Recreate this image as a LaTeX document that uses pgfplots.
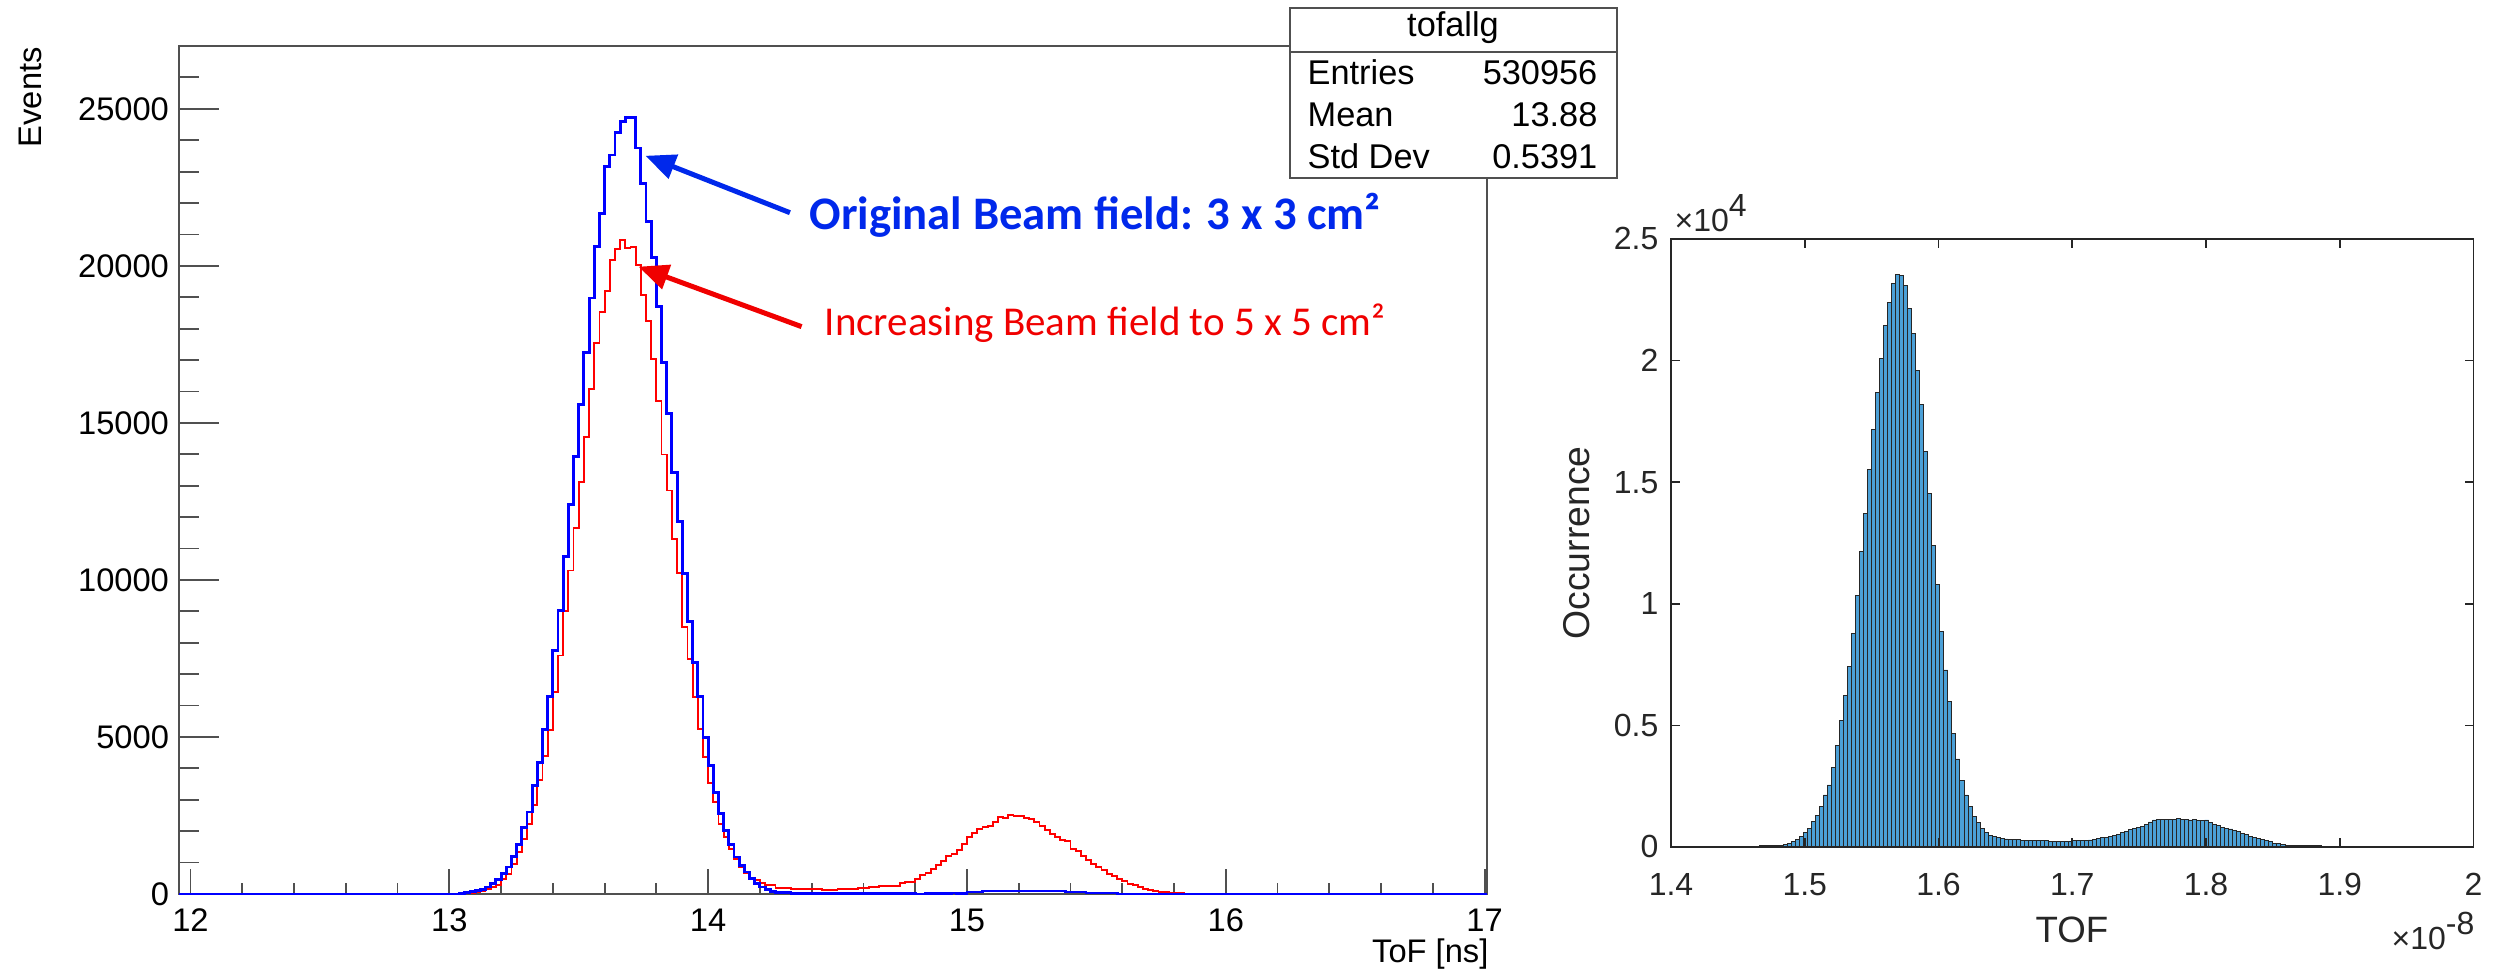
\documentclass[border=0pt]{standalone}
\usepackage{pgfplots}
\pgfplotsset{compat=1.18}
\usepackage{fontspec}
\setmainfont{Liberation Sans}
\newfontfamily\calibri{Carlito}
\usetikzlibrary{arrows.meta}

\definecolor{rootblue}{RGB}{0,0,255}
\definecolor{rootred}{RGB}{255,0,0}
\definecolor{noteblue}{RGB}{0,40,235}
\definecolor{notered}{RGB}{240,0,0}
\definecolor{framegray}{RGB}{80,80,80}
\definecolor{mlgray}{RGB}{38,38,38}
\definecolor{mlbar}{RGB}{75,160,215}

\begin{document}
\begin{tikzpicture}
\path[use as bounding box] (0pt,0pt) rectangle (750.6pt,291pt);

% ---------------- ROOT-style ToF histogram ----------------
\begin{axis}[
  at={(53.58pt,22.8pt)}, anchor=south west,
  width=392.5pt, height=254.4pt, scale only axis,
  xmin=11.954, xmax=17.009, ymin=0, ymax=27000,
  axis line style={framegray, line width=0.55pt},
  tick align=inside, tick pos=left,
  xtick={12,13,14,15,16,17}, xticklabels={12,13,14,15,16,17},
  minor xtick={12.2,12.4,12.6,12.8,13.2,13.4,13.6,13.8,14.2,14.4,14.6,14.8,15.2,15.4,15.6,15.8,16.2,16.4,16.6,16.8},
  ytick={0,5000,10000,15000,20000,25000},
  yticklabels={0,5000,10000,15000,20000,25000},
  minor ytick={1000,2000,3000,4000,6000,7000,8000,9000,11000,12000,13000,14000,16000,17000,18000,19000,21000,22000,23000,24000,26000},
  xtick style={framegray, line width=0.55pt, /pgfplots/major tick length=7.5pt, /pgfplots/minor tick length=3.3pt},
  ytick style={framegray, line width=0.55pt, /pgfplots/major tick length=12pt, /pgfplots/minor tick length=6pt},
  ticklabel style={font=\fontsize{9.8}{11}\selectfont},
  xticklabel style={inner sep=0pt, yshift=-4.2pt},
  yticklabel style={inner sep=0pt, xshift=-2.7pt},
  scaled ticks=false,
  clip=false,
]
% 5 x 5 cm^2 field
\addplot[const plot, color=rootred, line width=0.55pt] coordinates {
(11.954,0) (13.06,21) (13.08,42) (13.10,64) (13.12,95) (13.14,148) (13.16,223) (13.18,297)
(13.20,488) (13.22,647) (13.24,944) (13.26,1336) (13.28,1740) (13.30,2238) (13.32,2821)
(13.34,3638) (13.36,4391) (13.38,5229) (13.40,6428) (13.42,7595) (13.44,9005) (13.46,10299)
(13.48,11657) (13.50,13110) (13.52,14542) (13.54,16082) (13.56,17545) (13.58,18541)
(13.60,19210) (13.62,20186) (13.64,20537) (13.66,20833) (13.68,20568) (13.70,20588)
(13.72,20026) (13.74,19073) (13.76,18245) (13.78,17036) (13.80,15709) (13.82,13991)
(13.84,12846) (13.86,11309) (13.88,10214) (13.90,8496) (13.92,7488) (13.94,6269)
(13.96,5240) (13.98,4359) (14.00,3543) (14.02,2928) (14.04,2238) (14.06,1814) (14.08,1443)
(14.10,1124) (14.12,859) (14.14,668) (14.16,488) (14.18,435) (14.20,350) (14.22,276)
(14.24,276) (14.26,202) (14.28,202) (14.30,202) (14.32,170) (14.34,170) (14.36,170)
(14.38,170) (14.40,148) (14.42,148) (14.44,138) (14.46,138) (14.48,138) (14.50,148)
(14.52,148) (14.54,170) (14.56,170) (14.58,190) (14.60,190) (14.62,223) (14.64,223)
(14.66,255) (14.68,255) (14.70,255) (14.72,255) (14.74,350) (14.76,382) (14.78,382)
(14.80,488) (14.82,594) (14.84,668) (14.86,806) (14.88,912) (14.90,1039) (14.92,1198)
(14.94,1262) (14.96,1410) (14.98,1601) (15.00,1813) (15.02,1940) (15.04,2078) (15.06,2131)
(15.08,2153) (15.10,2291) (15.12,2450) (15.14,2429) (15.16,2503) (15.18,2471) (15.20,2482)
(15.22,2429) (15.24,2376) (15.26,2291) (15.28,2153) (15.30,2026) (15.32,1920) (15.34,1813)
(15.36,1707) (15.38,1675) (15.40,1442) (15.42,1368) (15.44,1198) (15.46,1071) (15.48,965)
(15.50,859) (15.52,753) (15.54,647) (15.56,562) (15.58,488) (15.60,414) (15.62,329)
(15.64,276) (15.66,223) (15.68,170) (15.70,138) (15.72,95) (15.74,64) (15.78,32)
(15.84,0) (17.009,0)
};
% 3 x 3 cm^2 field
\addplot[const plot, color=rootblue, line width=0.85pt] coordinates {
(11.954,0) (13.04,21) (13.06,42) (13.08,85) (13.10,117) (13.12,148) (13.14,223) (13.16,329)
(13.18,456) (13.20,647) (13.22,859) (13.24,1199) (13.26,1570) (13.28,2111) (13.30,2609)
(13.32,3447) (13.34,4179) (13.36,5229) (13.38,6300) (13.40,7754) (13.42,9027) (13.44,10745)
(13.46,12389) (13.48,13928) (13.50,15573) (13.52,17246) (13.54,18977) (13.56,20610)
(13.58,21670) (13.60,23155) (13.62,23527) (13.64,24247) (13.66,24588) (13.68,24724)
(13.70,24724) (13.72,23750) (13.74,22624) (13.76,21405) (13.78,20269) (13.80,18710)
(13.82,16928) (13.84,15286) (13.86,13428) (13.88,11869) (13.90,10214) (13.92,8677)
(13.94,7382) (13.96,6300) (13.98,4975) (14.00,4094) (14.02,3225) (14.04,2556) (14.06,2026)
(14.08,1570) (14.10,1177) (14.12,912) (14.14,700) (14.16,488) (14.18,329) (14.20,223)
(14.22,138) (14.24,85) (14.26,42) (14.28,42) (14.30,42) (14.32,12) (14.40,5) (14.44,12)
(14.50,5) (14.56,10) (14.80,0) (14.84,10) (14.94,32) (14.96,10) (15.00,64) (15.06,95)
(15.38,64) (15.46,32) (15.58,0) (17.009,0)
};
\draw[noteblue, line width=1.5pt, -{Triangle[length=9pt,width=7.5pt]}]
  (axis cs:14.316,21692) -- (axis cs:13.758,23505);
\draw[notered, line width=1.5pt, -{Triangle[length=9pt,width=7.5pt]}]
  (axis cs:14.361,18064) -- (axis cs:13.731,19973);
\end{axis}

% ---------------- MATLAB-style TOF histogram ----------------
\begin{axis}[
  at={(501.3pt,36.9pt)}, anchor=south west,
  width=240.75pt, height=182.4pt, scale only axis,
  xmin=1.4, xmax=2, ymin=0, ymax=2.5,
  axis on top,
  axis line style={mlgray, line width=0.5pt},
  tick align=inside, tick pos=both,
  major tick length=2.7pt,
  tick style={mlgray, line width=0.5pt},
  xtick={1.4,1.5,1.6,1.7,1.8,1.9,2}, xticklabels={1.4,1.5,1.6,1.7,1.8,1.9,2},
  ytick={0,0.5,1,1.5,2,2.5}, yticklabels={0,0.5,1,1.5,2,2.5},
  ticklabel style={font=\fontsize{9.6}{11}\selectfont, text=mlgray},
  xticklabel style={inner sep=0pt, yshift=-7.8pt},
  yticklabel style={inner sep=0pt, xshift=-3.6pt},
  scaled ticks=false,
]
\addplot[ybar interval, fill=mlbar, draw=black!85, line width=0.25pt] coordinates {
(1.400,0.003) (1.403,0.003) (1.406,0.003) (1.409,0.003) (1.412,0.003) (1.415,0.003)
(1.418,0.003) (1.421,0.003) (1.424,0.003) (1.427,0.003) (1.430,0.003) (1.433,0.003)
(1.436,0.004) (1.439,0.004) (1.442,0.004) (1.445,0.004) (1.448,0.004) (1.451,0.004)
(1.454,0.004) (1.457,0.004) (1.460,0.004) (1.463,0.004) (1.466,0.0055) (1.469,0.0055)
(1.472,0.0055) (1.475,0.0055) (1.478,0.0055) (1.481,0.008) (1.484,0.011) (1.487,0.015)
(1.490,0.022) (1.493,0.032) (1.496,0.042) (1.499,0.060) (1.502,0.077) (1.505,0.104)
(1.508,0.129) (1.511,0.166) (1.514,0.214) (1.517,0.255) (1.520,0.326) (1.523,0.417)
(1.526,0.519) (1.529,0.622) (1.532,0.742) (1.535,0.879) (1.538,1.036) (1.541,1.214)
(1.544,1.372) (1.547,1.553) (1.550,1.717) (1.553,1.868) (1.556,2.007) (1.559,2.146)
(1.562,2.240) (1.565,2.316) (1.568,2.355) (1.571,2.351) (1.574,2.308) (1.577,2.216)
(1.580,2.112) (1.583,1.961) (1.586,1.820) (1.589,1.625) (1.592,1.454) (1.595,1.239)
(1.598,1.081) (1.601,0.885) (1.604,0.728) (1.607,0.598) (1.610,0.465) (1.613,0.362)
(1.616,0.273) (1.619,0.214) (1.622,0.166) (1.625,0.127) (1.628,0.101) (1.631,0.077)
(1.634,0.060) (1.637,0.049) (1.640,0.042) (1.643,0.038) (1.646,0.036) (1.649,0.033)
(1.652,0.030) (1.655,0.030) (1.658,0.030) (1.661,0.026) (1.664,0.026) (1.667,0.026)
(1.670,0.026) (1.673,0.026) (1.676,0.026) (1.679,0.025) (1.682,0.023) (1.685,0.023)
(1.688,0.023) (1.691,0.023) (1.694,0.023) (1.697,0.024) (1.700,0.025) (1.703,0.025)
(1.706,0.025) (1.709,0.026) (1.712,0.029) (1.715,0.031) (1.718,0.036) (1.721,0.038)
(1.724,0.040) (1.727,0.045) (1.730,0.049) (1.733,0.053) (1.736,0.059) (1.739,0.064)
(1.742,0.073) (1.745,0.078) (1.748,0.082) (1.751,0.084) (1.754,0.092) (1.757,0.103)
(1.760,0.111) (1.763,0.112) (1.766,0.112) (1.769,0.114) (1.772,0.114) (1.775,0.115)
(1.778,0.119) (1.781,0.112) (1.784,0.115) (1.787,0.111) (1.790,0.114) (1.793,0.110)
(1.796,0.108) (1.799,0.111) (1.802,0.100) (1.805,0.093) (1.808,0.088) (1.811,0.082)
(1.814,0.078) (1.817,0.074) (1.820,0.069) (1.823,0.063) (1.826,0.056) (1.829,0.051)
(1.832,0.045) (1.835,0.040) (1.838,0.036) (1.841,0.032) (1.844,0.026) (1.847,0.021)
(1.850,0.016) (1.853,0.014) (1.856,0.011) (1.859,0.008) (1.862,0.008) (1.865,0.005)
(1.868,0.005) (1.871,0.005) (1.874,0.005) (1.877,0.005) (1.880,0.005) (1.883,0.005)
(1.886,0.003) (1.889,0.003) (1.892,0.003) (1.895,0.003) (1.898,0.003) (1.901,0.003)
(1.904,0.003) (1.907,0.003) (1.910,0.003) (1.913,0.003) (1.916,0.003) (1.919,0.003)
(1.922,0.003) (1.925,0.003) (1.928,0.002) (1.931,0.002) (1.934,0.002) (1.937,0.002)
(1.940,0.002) (1.943,0.002) (1.946,0.002) (1.949,0.002) (1.952,0.002) (1.955,0.002)
(1.958,0.002) (1.961,0.002) (1.964,0.002) (1.967,0.002) (1.970,0.002) (1.973,0.002)
(1.976,0.002) (1.979,0.002) (1.982,0.002) (1.985,0.002) (1.988,0.002) (1.991,0.002)
(1.994,0.002) (1.997,0.002) (2.000,0)
};
\end{axis}

% texts and boxes, positioned on a 0.3pt grid
\begin{scope}[x=0.3pt,y=0.3pt]
\node[rotate=90, anchor=east, inner sep=0pt, font=\fontsize{9.8}{11}\selectfont] at (30,923.3) {Events};
\node[anchor=base east, inner sep=0pt, font=\fontsize{9.8}{11}\selectfont] at (1489,7) {ToF [ns]};

% statistics box
\draw[framegray, line width=0.55pt, fill=white] (1290,792) rectangle (1617,962);
\draw[framegray, line width=0.55pt] (1290,918.3) -- (1617,918.3);
\begin{scope}[every node/.style={inner sep=0pt, font=\fontsize{10.3}{12}\selectfont}]
\node[anchor=base] at (1453,933.3) {tofallg};
\node[anchor=base west] at (1307,885.7) {Entries};
\node[anchor=base east] at (1598,885.7) {530956};
\node[anchor=base west] at (1307,843.3) {Mean};
\node[anchor=base east] at (1598,843.3) {13.88};
\node[anchor=base west] at (1307,801.7) {Std Dev};
\node[anchor=base east] at (1598,801.7) {0.5391};
\end{scope}

% annotations
\node[anchor=base west, inner sep=0pt, text=noteblue, font=\calibri\bfseries\fontsize{14}{16}\selectfont] at (809,740.7) {Original Beam field: 3 x 3 cm²};
\node[anchor=base west, inner sep=0pt, text=notered, font=\calibri\fontsize{12.3}{15}\selectfont] at (824,634) {Increasing Beam field to 5 x 5 cm²};

\node[rotate=90, inner sep=0pt, text=mlgray, font=\fontsize{11.2}{13}\selectfont] at (1577,427) {Occurrence};
\node[inner sep=0pt, text=mlgray, font=\fontsize{11}{13}\selectfont] at (2072,40) {TOF};
\node[anchor=base west, inner sep=0pt, text=mlgray, font=\fontsize{9.6}{11}\selectfont] at (1674,738) {×10\raisebox{4.5pt}{4}};
\node[anchor=base east, inner sep=0pt, text=mlgray, font=\fontsize{9.6}{11}\selectfont] at (2475,20) {×10\raisebox{4.5pt}{-8}};
\end{scope}
\end{tikzpicture}
\end{document}
